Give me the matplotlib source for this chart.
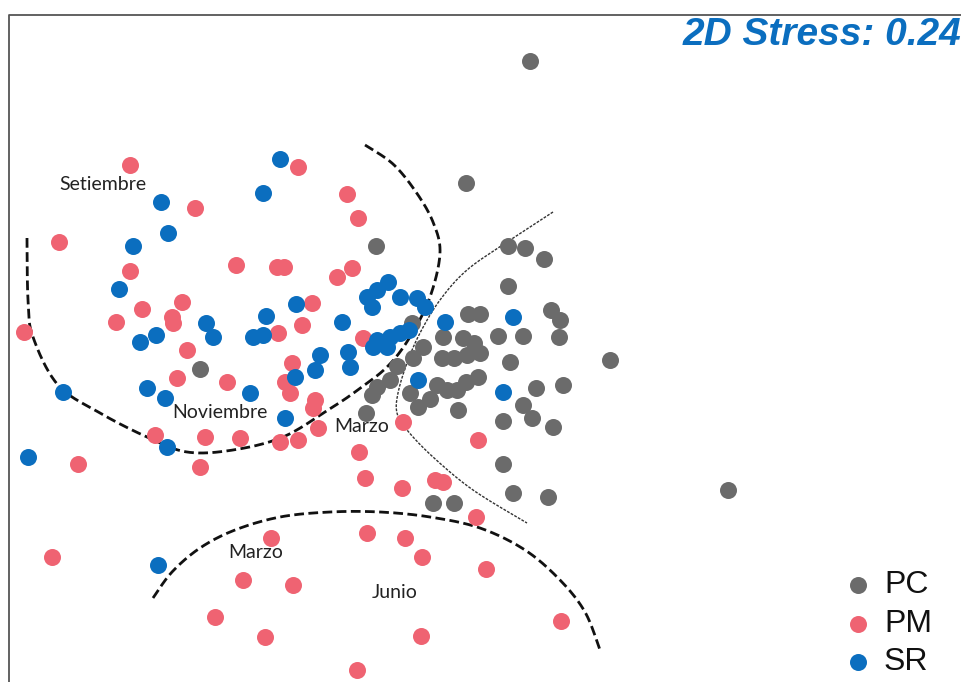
import numpy as np
import matplotlib.pyplot as plt

# coordenadas NMDS (unidades del panel) por sitio
pc_x = [530, 466, 376, 508, 525, 544, 508, 551, 560, 559, 610, 728,
        468, 480, 412, 443, 463, 474, 498, 523,
        423, 413, 397, 442, 454, 467, 480, 510,
        390, 377, 372, 410, 437, 447, 457, 466, 478,
        430, 418, 458, 366,
        536, 563, 523, 503, 532, 553, 503, 513, 548, 433, 454, 200]
pc_y = [61, 183, 246, 246, 248, 259, 286, 310, 320, 337, 360, 490,
        314, 314, 323, 337, 338, 343, 336, 336,
        347, 358, 366, 358, 358, 355, 353, 362,
        380, 387, 395, 393, 385, 390, 390, 382, 377,
        399, 407, 410, 413,
        388, 385, 405, 421, 418, 427, 464, 493, 497, 503, 503, 369]

pm_x = [130, 298, 195, 347, 358, 59, 130, 236, 277, 284, 337, 352,
        182, 142, 116, 172, 173, 312, 302, 278, 24, 187, 363, 292,
        177, 227, 285, 290, 315, 313, 318, 155, 205, 240, 280, 298,
        78, 200, 403, 478, 359, 365, 402, 435, 443, 476,
        52, 215, 265, 243, 293, 271, 357, 367, 405, 422, 486, 421, 561]
pm_y = [165, 167, 208, 194, 218, 242, 271, 265, 267, 267, 277, 268,
        302, 309, 322, 317, 323, 303, 325, 333, 332, 350, 338, 363,
        378, 382, 382, 393, 400, 408, 428, 435, 437, 438, 442, 440,
        464, 467, 422, 440, 452, 478, 488, 480, 482, 517,
        557, 617, 637, 580, 585, 538, 670, 533, 538, 557, 569, 636, 621]

sr_x = [280, 263, 161, 168, 133, 119, 296, 266, 206, 213, 156, 140,
        253, 263, 342, 320, 348, 315, 350, 295, 250, 147, 165, 63,
        285, 167, 28, 158,
        388, 377, 367, 372, 400, 417, 425, 445, 513,
        377, 390, 400, 409, 373, 387, 418, 503]
sr_y = [159, 193, 202, 233, 246, 289, 304, 316, 323, 337, 335, 342,
        337, 335, 322, 355, 352, 370, 367, 377, 393, 388, 398, 392,
        418, 447, 457, 565,
        282, 290, 297, 307, 297, 298, 307, 322, 317,
        340, 337, 333, 330, 347, 347, 380, 392]

grupos = ['PC', 'PM', 'SR']
colores = ['#6b6b6b', '#ef6372', '#0b6ebf']

# limites de agrupamiento trazados a mano
borde_izq = [(27, 238), (28, 300), (33, 337), (58, 385), (100, 413), (147, 437),
             (187, 452), (233, 450), (283, 437), (328, 410), (355, 392), (387, 367),
             (410, 337), (430, 297), (440, 253), (433, 222), (416, 192), (393, 164), (365, 145)]
borde_der = [(553, 212), (507, 242), (467, 270), (440, 300), (420, 333), (407, 363),
             (398, 393), (397, 413), (407, 430), (433, 457), (473, 490), (527, 523)]
borde_inf = [(153, 598), (172, 572), (200, 548), (235, 530), (280, 517), (330, 512),
             (380, 512), (430, 517), (480, 528), (525, 550), (560, 580), (585, 612), (600, 650)]


def suavizar(pts, n=30):
    # spline Catmull-Rom entre los puntos de control
    p = np.array(pts, dtype=float)
    p = np.vstack([p[0], p, p[-1]])
    out = []
    t = np.linspace(0, 1, n, endpoint=False)[:, None]
    for i in range(1, len(p) - 2):
        p0, p1, p2, p3 = p[i - 1], p[i], p[i + 1], p[i + 2]
        seg = 0.5 * ((2 * p1) + (-p0 + p2) * t + (2 * p0 - 5 * p1 + 4 * p2 - p3) * t ** 2
                     + (-p0 + 3 * p1 - 3 * p2 + p3) * t ** 3)
        out.append(seg)
    out.append(p[-2][None, :])
    return np.vstack(out)


fig = plt.figure(figsize=(9.62, 6.82), dpi=100)
ax = fig.add_axes([0, 0, 1, 1])
ax.set_xlim(0, 962)
ax.set_ylim(682, 0)
ax.axis('off')

# marco del panel
ax.plot([9, 9, 962], [682, 15, 15], color='#555555', lw=1.3, solid_capstyle='butt')

c = suavizar(borde_izq)
ax.plot(c[:, 0], c[:, 1], color='#111111', lw=2.0, ls=(0, (3.5, 1.6)))
c = suavizar(borde_inf)
ax.plot(c[:, 0], c[:, 1], color='#111111', lw=2.0, ls=(0, (3.5, 1.6)))
c = suavizar(borde_der)
ax.plot(c[:, 0], c[:, 1], color='#333333', lw=1.0, ls=(0, (2, 1)))

ax.scatter(pc_x, pc_y, s=150, color=colores[0], lw=0, zorder=3)
ax.scatter(pm_x, pm_y, s=150, color=colores[1], lw=0, zorder=4)
ax.scatter(sr_x, sr_y, s=150, color=colores[2], lw=0, zorder=5)

etq = dict(fontsize=14, color='#222222', family='Lato', zorder=6)
ax.text(103, 185, 'Setiembre', ha='center', va='center', **etq)
ax.text(220, 413, 'Noviembre', ha='center', va='center', **etq)
ax.text(362, 427, 'Marzo', ha='center', va='center', **etq)
ax.text(256, 553, 'Marzo', ha='center', va='center', **etq)
ax.text(395, 592, 'Junio', ha='center', va='center', **etq)

ax.text(683, 35, '2D Stress: 0.24', ha='left', va='center', fontsize=28,
        fontweight='bold', fontstyle='italic', color='#0b6ebf', family='Liberation Sans')

# leyenda manual
for i, (g, col) in enumerate(zip(grupos, colores)):
    y = 585 + i * 38.5
    ax.scatter([858], [y], s=150, color=col, lw=0, zorder=5)
    ax.text(884, y, g, ha='left', va='center', fontsize=23, color='#111111',
            family='Liberation Sans')

fig.savefig('out.png', dpi=100)
